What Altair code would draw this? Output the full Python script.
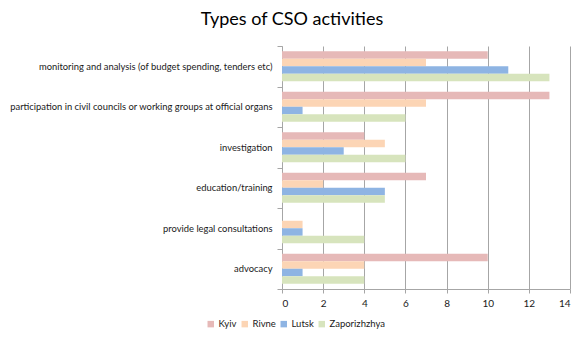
import altair as alt
import pandas as pd

categories = [
    "monitoring and analysis (of budget spending, tenders etc)",
    "participation in civil councils or working groups at official organs",
    "investigation",
    "education/training",
    "provide legal consultations",
    "advocacy",
]
series = ["Kyiv", "Rivne", "Lutsk", "Zaporizhzhya"]
kyiv = [10, 13, 4, 7, 0, 10]
rivne = [7, 7, 5, 2, 1, 4]
lutsk = [11, 1, 3, 5, 1, 1]
zaporizhzhya = [13, 6, 6, 5, 4, 4]
colors = ["#E6B9B8", "#FCD5B5", "#8EB4E3", "#D7E4BD"]
x_ticks = [0, 2, 4, 6, 8, 10, 12, 14]

rows = []
for s, vals in zip(series, [kyiv, rivne, lutsk, zaporizhzhya]):
    for c, v in zip(categories, vals):
        rows.append({"activity": c, "city": s, "value": v})
df = pd.DataFrame(rows)

FONT = "Lato"

chart = (
    alt.Chart(df)
    .mark_bar(size=7.5)
    .encode(
        x=alt.X(
            "value:Q",
            scale=alt.Scale(domain=[0, 14], nice=False),
            axis=alt.Axis(
                title=None,
                values=x_ticks,
                grid=True,
                gridColor="#A6A6A6",
                gridWidth=1,
                domainColor="#A6A6A6",
                tickColor="#A6A6A6",
                tickSize=4,
                labelPadding=5,
                labelFontSize=10,
                labelColor="#1a1a1a",
                labelFont=FONT,
            ),
        ),
        y=alt.Y(
            "activity:N",
            sort=categories,
            scale=alt.Scale(paddingInner=0, paddingOuter=0),
            axis=alt.Axis(
                title=None,
                tickBand="extent",
                domainColor="#A6A6A6",
                tickColor="#A6A6A6",
                tickSize=5,
                labelPadding=5,
                labelFontSize=9.4,
                labelLimit=400,
                labelColor="#1a1a1a",
                labelFont=FONT,
            ),
        ),
        yOffset=alt.YOffset(
            "city:N",
            sort=series,
            scale=alt.Scale(paddingInner=0, paddingOuter=0.7),
        ),
        color=alt.Color(
            "city:N",
            sort=series,
            scale=alt.Scale(domain=series, range=colors),
            legend=alt.Legend(
                title=None,
                orient="none",
                direction="horizontal",
                legendX=-76,
                legendY=273,
                symbolType="square",
                symbolSize=42,
                symbolStrokeWidth=0,
                labelFontSize=9.5,
                labelFont=FONT,
                labelColor="#1a1a1a",
                labelOffset=3,
                columnPadding=3,
            ),
        ),
    )
    .properties(
        width=288,
        height=243,
        autosize=alt.AutoSizeParams(type="none"),
        padding={"left": 282, "top": 46, "right": 18, "bottom": 52},
        title=alt.TitleParams(
            "Types of CSO activities",
            font=FONT,
            fontSize=18,
            fontWeight="normal",
            color="#000000",
            anchor="middle",
            offset=12,
            dx=-134,
        ),
    )
    .configure_view(stroke=None)
)

chart.save("out.html", embed_options={"renderer": "svg", "actions": False})
